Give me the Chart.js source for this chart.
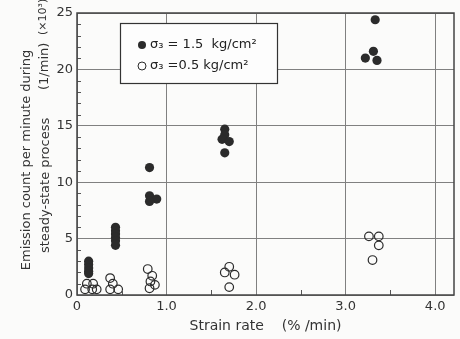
<!DOCTYPE html>
<html>
<head>
<meta charset="utf-8">
<script src="https://cdn.jsdelivr.net/npm/chart.js@4.4.1/dist/chart.umd.min.js"></script>
<style>
    html, body { margin: 0; padding: 0; background: #fbfbfa; }
    #wrap { width: 460px; height: 339px; position: relative; }
</style>
</head>
<body>
<div id="wrap"><canvas id="chart"></canvas></div>
<script>
// ── DATA ──
// sigma3 = 1.5 kg/cm2 (filled)
const highX = [0.13, 0.13, 0.13, 0.13, 0.13,
               0.43, 0.43, 0.43, 0.43, 0.43, 0.43,
               0.81, 0.81, 0.89, 0.81,
               1.65, 1.65, 1.62, 1.70, 1.65,
               3.33, 3.31, 3.22, 3.35];
const highY = [3.0, 2.7, 2.4, 2.1, 1.9,
               6.0, 5.7, 5.4, 5.1, 4.8, 4.4,
               11.3, 8.8, 8.5, 8.3,
               14.7, 14.2, 13.8, 13.6, 12.6,
               24.4, 21.6, 21.0, 20.8];
// sigma3 = 0.5 kg/cm2 (open)
const lowX = [0.11, 0.18, 0.09, 0.17, 0.22,
              0.37, 0.40, 0.37, 0.46,
              0.79, 0.84, 0.82, 0.87, 0.81,
              1.70, 1.65, 1.76, 1.70,
              3.26, 3.37, 3.37, 3.30];
const lowY = [1.0, 1.0, 0.5, 0.5, 0.5,
              1.5, 1.0, 0.5, 0.5,
              2.3, 1.7, 1.2, 0.9, 0.6,
              2.5, 2.0, 1.8, 0.7,
              5.2, 5.2, 4.4, 3.1];
const xTicks = [0, 1, 2, 3, 4];
const yTicks = [0, 5, 10, 15, 20, 25];
const legendLabels = ['σ₃ = 1.5  kg/cm²', 'σ₃ =0.5 kg/cm²'];
const yTitle1 = 'Emission count per minute during';
const yTitle2 = ['steady-state process', '(1/min)', '(×10³)'];

const ink = '#2b2b2b';
const FONT = "'DejaVu Sans', sans-serif";

// ── HELPERS ──
const toPts = (xs, ys) => xs.map((x, i) => ({ x, y: ys[i] }));

// minor ticks, frame, y title and the boxed legend
const decor = {
    id: 'decor',
    afterDatasetsDraw(chart) {
        const { ctx, chartArea: a, scales: { x, y } } = chart;
        ctx.save();
        ctx.strokeStyle = '#555';
        ctx.lineWidth = 1;
        ctx.beginPath();
        for (let v = 1; v < 25; v++) {
            if (v % 5 === 0) continue;
            const py = Math.round(y.getPixelForValue(v)) + 0.5;
            ctx.moveTo(a.left, py); ctx.lineTo(a.left + 4, py);
        }
        for (let v = 0.5; v < 4.2; v += 1) {
            const px = Math.round(x.getPixelForValue(v)) + 0.5;
            ctx.moveTo(px, a.bottom); ctx.lineTo(px, a.bottom - 5);
        }
        ctx.stroke();

        // frame
        ctx.strokeStyle = '#444';
        ctx.lineWidth = 1.5;
        ctx.strokeRect(a.left, a.top, a.right - a.left, a.bottom - a.top);

        // y axis title, rotated
        ctx.save();
        ctx.rotate(-Math.PI / 2);
        ctx.fillStyle = '#333';
        ctx.font = '13px ' + FONT;
        ctx.textBaseline = 'middle';
        ctx.textAlign = 'center';
        ctx.fillText(yTitle1, -160, 27);
        ctx.textAlign = 'left';
        ctx.fillText(yTitle2[0], -253, 46);
        ctx.fillText(yTitle2[1], -90, 45);
        ctx.font = '11px ' + FONT;
        ctx.fillText(yTitle2[2], -35, 43);
        ctx.restore();

        // legend box
        const bx = 120, by = 23, bw = 157, bh = 60;
        ctx.fillStyle = '#fdfdfd';
        ctx.fillRect(bx, by, bw, bh);
        ctx.strokeStyle = '#333';
        ctx.lineWidth = 1.2;
        ctx.strokeRect(bx + 0.5, by + 0.5, bw, bh);
        const rows = [by + 22, by + 43];
        ctx.font = '13px ' + FONT;
        ctx.textBaseline = 'middle';
        rows.forEach((ry, i) => {
            ctx.beginPath();
            ctx.arc(bx + 22, ry, 4, 0, Math.PI * 2);
            if (i === 0) { ctx.fillStyle = ink; ctx.fill(); }
            else { ctx.strokeStyle = ink; ctx.lineWidth = 1; ctx.stroke(); }
            ctx.fillStyle = '#222';
            ctx.fillText(legendLabels[i], bx + 30, ry);
        });
        ctx.restore();
    }
};

// ── CHART ──
new Chart(document.getElementById('chart'), {
    type: 'scatter',
    data: {
        datasets: [
            {
                label: legendLabels[0],
                data: toPts(highX, highY),
                backgroundColor: ink,
                borderColor: ink,
                pointRadius: 4.6,
                borderWidth: 0
            },
            {
                label: legendLabels[1],
                data: toPts(lowX, lowY),
                backgroundColor: 'rgba(255,255,255,0)',
                borderColor: ink,
                pointRadius: 4.3,
                borderWidth: 1.2
            }
        ]
    },
    options: {
        responsive: true,
        maintainAspectRatio: false,
        animation: false,
        layout: { padding: { top: 13, right: 6, left: 0, bottom: 0 } },
        plugins: { legend: { display: false }, tooltip: { enabled: false } },
        scales: {
            x: {
                type: 'linear',
                min: 0, max: 4.21,
                afterBuildTicks: s => { s.ticks = xTicks.map(v => ({ value: v })); },
                afterFit: s => { s.height = 44; },
                ticks: {
                    color: '#333',
                    font: { family: FONT, size: 13 },
                    padding: 4,
                    callback: v => v === 0 ? '0' : v.toFixed(1)
                },
                grid: { color: '#808080', lineWidth: 1, drawTicks: false },
                border: { display: false },
                title: {
                    display: true,
                    text: 'Strain rate    (% /min)',
                    color: '#333',
                    font: { family: FONT, size: 14 },
                    padding: { top: 2 }
                }
            },
            y: {
                min: 0, max: 25,
                afterBuildTicks: s => { s.ticks = yTicks.map(v => ({ value: v })); },
                afterFit: s => { s.width = 77; },
                ticks: {
                    color: '#333',
                    font: { family: FONT, size: 13 },
                    padding: 4
                },
                grid: { color: '#808080', lineWidth: 1, drawTicks: false },
                border: { display: false }
            }
        }
    },
    plugins: [decor]
});
</script>
</body>
</html>
